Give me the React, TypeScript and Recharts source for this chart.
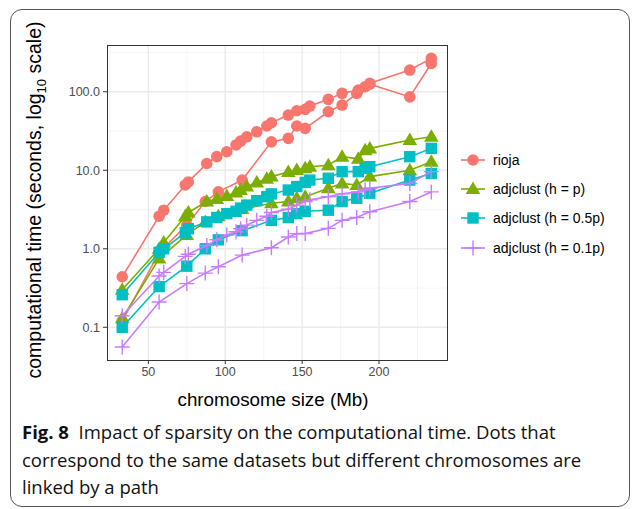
import { ScatterChart, Scatter, XAxis, YAxis, ReferenceLine } from 'recharts'

// chromosome sizes (Mb) for the two datasets
const sizesA = [33, 57, 60, 74, 76, 88, 94.5, 101, 107, 110, 114, 120.5, 127, 130, 141, 146.5, 152, 155, 167, 176, 186.5, 191, 194, 220, 234]
const sizesB = [33, 57, 75, 87, 95.5, 111, 130, 141, 146.5, 152, 167, 176, 185.5, 194, 220, 234]

// computational time (seconds)
const riojaA = [0.44, 2.6, 3.1, 6.5, 7.1, 12.2, 14.9, 17.2, 21, 23.5, 26.7, 30.9, 36.6, 40.3, 50.5, 57.3, 59.7, 65.7, 80, 95.4, 105, 116, 128, 189, 266]
const riojaB = [0.12, 0.9, 2.0, 4.0, 5.3, 7.5, 23, 25.5, 36.6, 34.2, 55.6, 67.7, 95, 125, 86, 229]
const hpA = [0.3, 1.0, 1.2, 2.6, 2.9, 4.0, 4.3, 4.7, 5.2, 5.6, 6.2, 7.0, 7.8, 8.3, 9.5, 10.1, 10.6, 11.1, 11.6, 14.9, 14, 18, 19, 24.3, 26.7]
const hpB = [0.13, 0.75, 1.5, 2.2, 2.6, 3.2, 3.8, 4.0, 4.4, 4.6, 5.9, 6.8, 6.5, 8.3, 10, 12.8]
const h05A = [0.26, 0.9, 1.0, 1.6, 1.8, 2.2, 2.5, 2.8, 3.0, 3.3, 3.6, 4.1, 4.6, 5.0, 5.6, 6.2, 7.0, 7.5, 7.9, 9.6, 9.6, 10.6, 11.1, 14.9, 19]
const h05B = [0.1, 0.33, 0.6, 1.0, 1.3, 1.7, 2.3, 2.5, 2.8, 3.0, 3.1, 4.0, 4.4, 5.1, 7.5, 9.1]
const h01A = [0.14, 0.45, 0.5, 0.8, 0.85, 1.1, 1.3, 1.5, 1.65, 1.8, 2.0, 2.3, 2.6, 2.9, 3.2, 3.6, 4.0, 4.2, 4.6, 5.0, 5.3, 5.6, 5.9, 6.8, 9.6]
const h01B = [0.056, 0.21, 0.36, 0.49, 0.59, 0.83, 1.03, 1.41, 1.56, 1.56, 1.82, 2.3, 2.5, 2.96, 4.0, 5.3]

const xTicks = [50, 100, 150, 200]
const xMinor = [25, 75, 125, 175, 225]
const yTicks = [0.1, 1, 10, 100]
const yMinor = [0.316, 3.16, 31.6, 316]

const SERIES = [
  { name: 'rioja', color: '#F8766D', shape: 'circle', a: riojaA, b: riojaB },
  { name: 'adjclust (h = p)', color: '#7CAE00', shape: 'triangle', a: hpA, b: hpB },
  { name: 'adjclust (h = 0.5p)', color: '#00BFC4', shape: 'square', a: h05A, b: h05B },
  { name: 'adjclust (h = 0.1p)', color: '#C77CFF', shape: 'plus', a: h01A, b: h01B },
]

const toPoints = (xs: number[], ys: number[]) => xs.map((x, i) => ({ x, y: ys[i] }))

function Marker({ shape, color, cx, cy }: { shape: string; color: string; cx: number; cy: number }) {
  if (shape === 'circle') return <circle cx={cx} cy={cy} r={5.8} fill={color} />
  if (shape === 'triangle')
    return <polygon points={`${cx},${cy - 7.5} ${cx - 7.3},${cy + 5} ${cx + 7.3},${cy + 5}`} fill={color} />
  if (shape === 'square') return <rect x={cx - 5.7} y={cy - 5.7} width={11.4} height={11.4} fill={color} />
  return <path d={`M${cx - 7.5},${cy}H${cx + 7.5}M${cx},${cy - 7.5}V${cy + 7.5}`} stroke={color} strokeWidth={1.4} fill="none" />
}

const fontAxis = "'Liberation Sans', Arial, sans-serif"

export default function App() {
  return (
    <div style={{ position: 'absolute', left: 0, top: 0, width: 636, height: 509, background: '#fff' }}>
      <div
        style={{
          position: 'absolute', left: 10, top: 9, width: 620, height: 498,
          border: '1.5px solid #555', borderRadius: 12, boxSizing: 'border-box',
        }}
      />
      <div style={{ position: 'absolute', left: 0, top: 0 }}>
        <ScatterChart width={636} height={420} margin={{ top: 45, right: 189, bottom: 0, left: 47 }}>
          <XAxis
            type="number" dataKey="x" domain={[23.1, 244.2]} ticks={xTicks} allowDataOverflow
            height={60} tickSize={4} tickMargin={3} axisLine={false}
            tickLine={{ stroke: '#333' }}
            tick={{ fill: '#4D4D4D', fontSize: 12.5, fontFamily: fontAxis }}
          />
          <YAxis
            type="number" dataKey="y" scale="log" domain={[0.0383, 394]} ticks={yTicks} allowDataOverflow
            width={60} tickSize={4} tickMargin={3} axisLine={false}
            tickLine={{ stroke: '#333' }}
            tickFormatter={(v: number) => v.toFixed(1)}
            tick={{ fill: '#4D4D4D', fontSize: 12.5, fontFamily: fontAxis }}
          />
          {xMinor.map((v) => <ReferenceLine key={'xm' + v} x={v} stroke="#F2F2F2" strokeWidth={0.8} />)}
          {yMinor.map((v) => <ReferenceLine key={'ym' + v} y={v} stroke="#F2F2F2" strokeWidth={0.8} />)}
          {xTicks.map((v) => <ReferenceLine key={'x' + v} x={v} stroke="#EBEBEB" strokeWidth={1.4} />)}
          {yTicks.map((v) => <ReferenceLine key={'y' + v} y={v} stroke="#EBEBEB" strokeWidth={1.4} />)}
          {SERIES.flatMap((s) => [
            <Scatter
              key={s.name + 'A'} data={toPoints(sizesA, s.a)} isAnimationActive={false}
              line={{ stroke: s.color, strokeWidth: 1.6 }} lineType="joint"
              shape={(p: any) => <Marker shape={s.shape} color={s.color} cx={p.cx} cy={p.cy} />}
            />,
            <Scatter
              key={s.name + 'B'} data={toPoints(sizesB, s.b)} isAnimationActive={false}
              line={{ stroke: s.color, strokeWidth: 1.6 }} lineType="joint"
              shape={(p: any) => <Marker shape={s.shape} color={s.color} cx={p.cx} cy={p.cy} />}
            />,
          ])}
        </ScatterChart>
      </div>
      <div
        style={{
          position: 'absolute', left: 107, top: 45, width: 341, height: 316,
          border: '1px solid #333', boxSizing: 'border-box', pointerEvents: 'none',
        }}
      />
      <div
        style={{
          position: 'absolute', left: 36, top: 200, transform: 'translate(-50%, -50%) rotate(-90deg)',
          whiteSpace: 'nowrap', fontFamily: fontAxis, fontSize: 19.5, color: '#000',
        }}
      >
        computational time (seconds, log<sub style={{ fontSize: 13 }}>10</sub> scale)
      </div>
      <div
        style={{
          position: 'absolute', left: 273, top: 400, transform: 'translate(-50%, -50%)',
          whiteSpace: 'nowrap', fontFamily: fontAxis, fontSize: 18.8, color: '#000',
        }}
      >
        chromosome size (Mb)
      </div>
      <div style={{ position: 'absolute', left: 461, top: 145, fontFamily: fontAxis, fontSize: 14, color: '#000' }}>
        {SERIES.map((s) => (
          <div key={s.name} style={{ display: 'flex', alignItems: 'center', height: 29.3 }}>
            <svg width={26} height={20} style={{ marginRight: 6 }}>
              <line x1={0} y1={10} x2={24} y2={10} stroke={s.color} strokeWidth={1.6} />
              <Marker shape={s.shape} color={s.color} cx={12} cy={10} />
            </svg>
            <span>{s.name}</span>
          </div>
        ))}
      </div>
      <div
        style={{
          position: 'absolute', left: 22, top: 418, fontFamily: "'Open Sans', sans-serif",
          fontSize: 18.5, lineHeight: '27.5px', color: '#111', whiteSpace: 'nowrap',
        }}
      >
        <div>
          <b>Fig. 8</b>&nbsp; Impact of sparsity on the computational time. Dots that
        </div>
        <div>correspond to the same datasets but different chromosomes are</div>
        <div>linked by a path</div>
      </div>
    </div>
  )
}
